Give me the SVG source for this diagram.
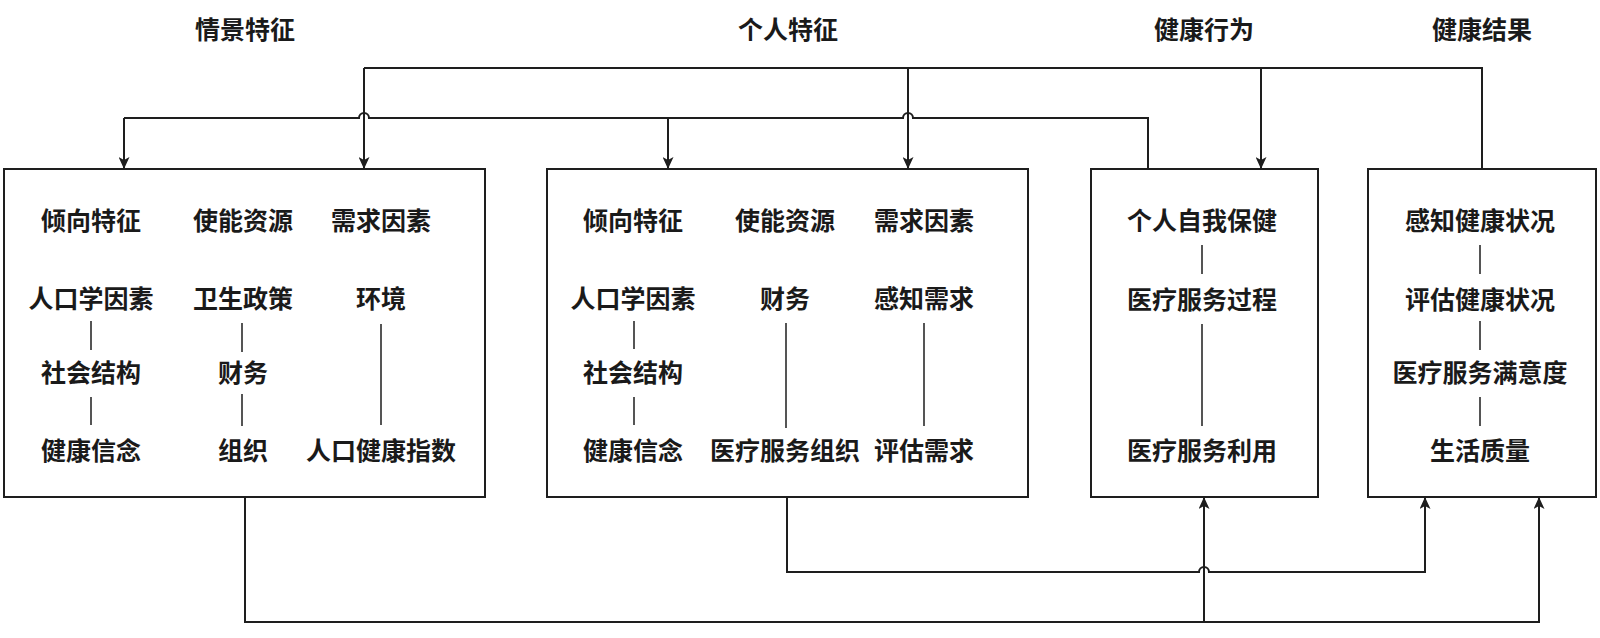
<svg xmlns="http://www.w3.org/2000/svg" width="1600" height="638" viewBox="0 0 1600 638">
<style>
  .box { fill: #ffffff; stroke: #1e1e1e; stroke-width: 2; }
  .t { font-family: "Noto Sans CJK SC", "Noto Sans", sans-serif; font-size: 25px; font-weight: bold; fill: #1a1a1a; text-anchor: middle; dominant-baseline: central; }
  .title { font-family: "Noto Sans CJK SC", "Noto Sans", sans-serif; font-size: 25px; font-weight: bold; fill: #1a1a1a; text-anchor: middle; dominant-baseline: central; }
  .in { stroke: #1e1e1e; stroke-width: 1.5; fill: none; }
  .c { stroke: #1e1e1e; stroke-width: 2; fill: none; }
  .a { stroke: #1e1e1e; stroke-width: 2; fill: none; marker-end: url(#arr); }
</style>
<defs>
  <marker id="arr" viewBox="0 0 12 11" refX="12" refY="5.5" markerWidth="12" markerHeight="11" markerUnits="userSpaceOnUse" orient="auto">
    <path d="M0,0 L12,5.5 L0,11 L3,5.5 z" fill="#1e1e1e"/>
  </marker>
</defs>
<rect width="1600" height="638" fill="#ffffff"/>

<g id="titles">
  <text class="title" x="245" y="28">情景特征</text>
  <text class="title" x="788" y="28">个人特征</text>
  <text class="title" x="1204" y="28">健康行为</text>
  <text class="title" x="1482" y="28">健康结果</text>
</g>

<g id="connectors">
  <path class="c" d="M1482,169 V68 H364"/>
  <path class="a" d="M364,68 V169"/>
  <path class="a" d="M908,68 V169"/>
  <path class="a" d="M1261,68 V169"/>
  <path class="c" d="M1148,169 V118 H913 A5,5 0 0 0 903,118 H369 A5,5 0 0 0 359,118 H124"/>
  <path class="a" d="M124,118 V169"/>
  <path class="a" d="M668,118 V169"/>
  <path class="a" d="M245,497 V622 H1539 V497"/>
  <path class="a" d="M1204,622 V497"/>
  <path class="a" d="M787,497 V572 H1199 A5,5 0 0 1 1209,572 H1425 V497"/>
</g>

<g id="situational">
  <rect class="box" x="4" y="169" width="481" height="328"/>
  <text class="t" x="91" y="219">倾向特征</text>
  <text class="t" x="91" y="297">人口学因素</text>
  <text class="t" x="91" y="371">社会结构</text>
  <text class="t" x="91" y="449">健康信念</text>
  <text class="t" x="243" y="219">使能资源</text>
  <text class="t" x="243" y="297">卫生政策</text>
  <text class="t" x="243" y="371">财务</text>
  <text class="t" x="243" y="449">组织</text>
  <text class="t" x="381" y="219">需求因素</text>
  <text class="t" x="381" y="297">环境</text>
  <text class="t" x="381" y="449">人口健康指数</text>
  <path class="in" d="M91,321 V350 M91,397 V425 M242,323 V352 M242,394 V426 M381,324 V425"/>
</g>

<g id="individual">
  <rect class="box" x="547" y="169" width="481" height="328"/>
  <text class="t" x="633" y="219">倾向特征</text>
  <text class="t" x="633" y="297">人口学因素</text>
  <text class="t" x="633" y="371">社会结构</text>
  <text class="t" x="633" y="449">健康信念</text>
  <text class="t" x="785" y="219">使能资源</text>
  <text class="t" x="785" y="297">财务</text>
  <text class="t" x="785" y="449">医疗服务组织</text>
  <text class="t" x="924" y="219">需求因素</text>
  <text class="t" x="924" y="297">感知需求</text>
  <text class="t" x="924" y="449">评估需求</text>
  <path class="in" d="M634,321 V349 M634,397 V425 M786,323 V428 M924,323 V426"/>
</g>

<g id="behavior">
  <rect class="box" x="1091" y="169" width="227" height="328"/>
  <text class="t" x="1202" y="219">个人自我保健</text>
  <text class="t" x="1202" y="298">医疗服务过程</text>
  <text class="t" x="1202" y="449">医疗服务利用</text>
  <path class="in" d="M1202,245 V274 M1202,324 V426"/>
</g>

<g id="outcome">
  <rect class="box" x="1368" y="169" width="228" height="328"/>
  <text class="t" x="1480" y="219">感知健康状况</text>
  <text class="t" x="1480" y="298">评估健康状况</text>
  <text class="t" x="1480" y="371">医疗服务满意度</text>
  <text class="t" x="1480" y="449">生活质量</text>
  <path class="in" d="M1480,245 V274 M1480,321 V350 M1480,397 V426"/>
</g>
</svg>
